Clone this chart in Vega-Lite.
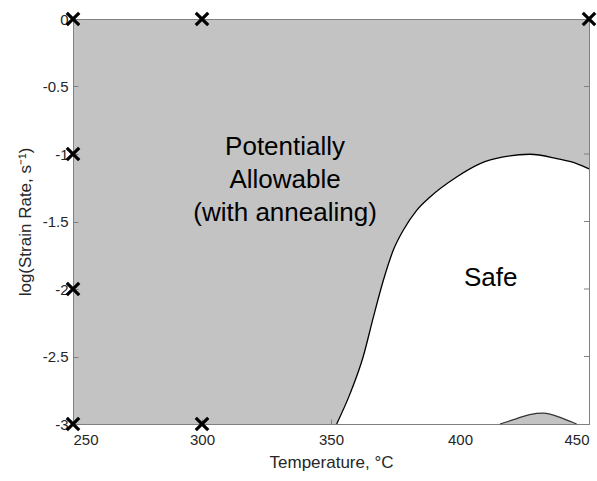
{
  "$schema": "https://vega.github.io/schema/vega-lite/v6.json",
  "width": 516,
  "height": 405,
  "autosize": "none",
  "padding": {"left": 73, "top": 19, "right": 8, "bottom": 57},
  "config": {
    "font": "Liberation Sans",
    "view": {"fill": "#c3c3c3", "stroke": "#808080", "strokeWidth": 1},
    "axis": {
      "grid": false,
      "domainColor": "#808080",
      "tickColor": "#808080",
      "tickSize": -5,
      "labelColor": "#262626",
      "labelFontSize": 15,
      "titleColor": "#262626",
      "titleFontSize": 17,
      "titleFontWeight": "normal"
    }
  },
  "datasets": {
    "safe": [
      {"T": 352.2, "v": -3},
      {"T": 357.4, "v": -2.775},
      {"T": 362.5, "v": -2.5},
      {"T": 366.4, "v": -2.21},
      {"T": 370.3, "v": -1.935},
      {"T": 374.2, "v": -1.71},
      {"T": 378.0, "v": -1.565},
      {"T": 383.2, "v": -1.417},
      {"T": 388.4, "v": -1.318},
      {"T": 398.7, "v": -1.17},
      {"T": 407.8, "v": -1.071},
      {"T": 416.8, "v": -1.022},
      {"T": 427.1, "v": -1.002},
      {"T": 437.5, "v": -1.034},
      {"T": 445.2, "v": -1.071},
      {"T": 450.0, "v": -1.11}
    ],
    "bump": [
      {"T": 415.5, "v": -3},
      {"T": 422.0, "v": -2.96},
      {"T": 427.0, "v": -2.93},
      {"T": 432.3, "v": -2.92},
      {"T": 440.0, "v": -2.96},
      {"T": 445.2, "v": -3}
    ],
    "crosses": [
      {"T": 250, "v": 0},
      {"T": 300, "v": 0},
      {"T": 450, "v": 0},
      {"T": 250, "v": -1},
      {"T": 250, "v": -2},
      {"T": 250, "v": -3},
      {"T": 300, "v": -3}
    ],
    "rticks": [
      {"v": -0.5}, {"v": -1}, {"v": -1.5}, {"v": -2}, {"v": -2.5}
    ]
  },
  "layer": [
    {
      "data": {"name": "safe"},
      "mark": {"type": "area", "fill": "white", "interpolate": "monotone"},
      "encoding": {
        "x": {
          "field": "T", "type": "quantitative",
          "scale": {"domain": [250, 450], "nice": false, "zero": false},
          "axis": {"values": [250, 300, 350, 400, 450], "title": "Temperature, °C", "labelPadding": 13, "titlePadding": 7}
        },
        "y": {
          "field": "v", "type": "quantitative",
          "scale": {"domain": [-3, 0], "nice": false, "zero": false},
          "axis": {"values": [0, -0.5, -1, -1.5, -2, -2.5, -3], "labelExpr": "'' + datum.value", "title": "log(Strain Rate, s⁻¹)", "labelPadding": 10, "titlePadding": 8}
        },
        "y2": {"datum": -3}
      }
    },
    {
      "data": {"name": "safe"},
      "mark": {"type": "line", "stroke": "black", "strokeWidth": 1.3, "interpolate": "monotone"},
      "encoding": {
        "x": {"field": "T", "type": "quantitative"},
        "y": {"field": "v", "type": "quantitative"}
      }
    },
    {
      "data": {"name": "bump"},
      "mark": {"type": "area", "fill": "#c3c3c3", "interpolate": "monotone"},
      "encoding": {
        "x": {"field": "T", "type": "quantitative"},
        "y": {"field": "v", "type": "quantitative"},
        "y2": {"datum": -3}
      }
    },
    {
      "data": {"name": "bump"},
      "mark": {"type": "line", "stroke": "#333333", "strokeWidth": 1.2, "interpolate": "monotone"},
      "encoding": {
        "x": {"field": "T", "type": "quantitative"},
        "y": {"field": "v", "type": "quantitative"}
      }
    },
    {
      "data": {"name": "rticks"},
      "mark": {"type": "rule", "stroke": "#808080", "strokeWidth": 1},
      "encoding": {
        "x": {"datum": 448.06},
        "x2": {"datum": 450},
        "y": {"field": "v", "type": "quantitative"}
      }
    },
    {
      "mark": {"type": "rule", "stroke": "#404040", "strokeWidth": 2},
      "encoding": {
        "x": {"datum": 250},
        "x2": {"datum": 450},
        "y": {"datum": 0}
      }
    },
    {
      "data": {"values": [{"label": "Potentially Allowable (with annealing)"}]},
      "mark": {"type": "text", "text": ["Potentially", "Allowable", "(with annealing)"], "fontSize": 26, "lineHeight": 33, "align": "center", "baseline": "middle", "fill": "black"},
      "encoding": {
        "x": {"datum": 332.2},
        "y": {"datum": -0.95}
      }
    },
    {
      "data": {"values": [{"label": "Safe"}]},
      "mark": {"type": "text", "fontSize": 26, "align": "center", "baseline": "middle", "fill": "black"},
      "encoding": {
        "text": {"field": "label"},
        "x": {"datum": 411.9},
        "y": {"datum": -1.917}
      }
    },
    {
      "data": {"name": "crosses"},
      "mark": {"type": "point", "shape": "M-1,-1L1,1M1,-1L-1,1", "filled": false, "stroke": "black", "strokeWidth": 3.2, "size": 155, "opacity": 1, "clip": false},
      "encoding": {
        "x": {"field": "T", "type": "quantitative"},
        "y": {"field": "v", "type": "quantitative"}
      }
    }
  ]
}
